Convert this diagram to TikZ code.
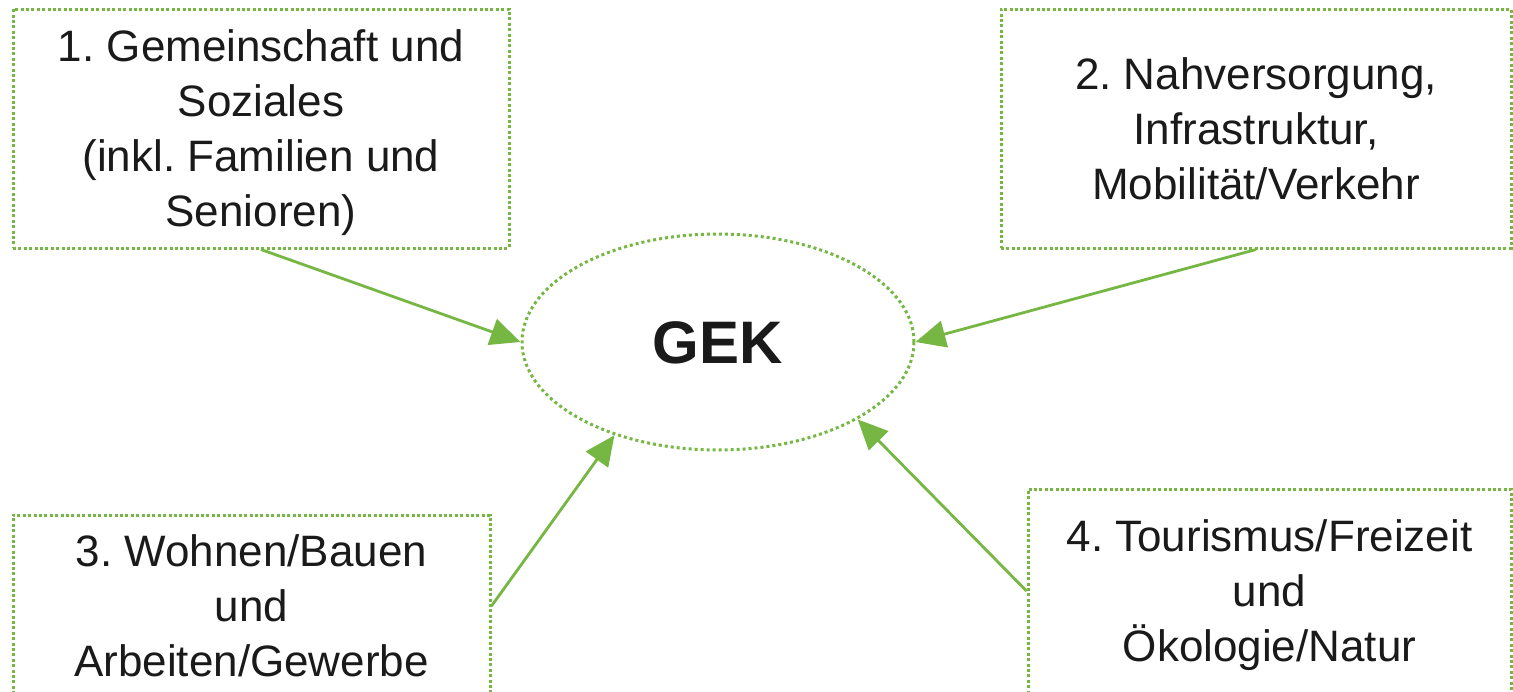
\documentclass[tikz,border=0pt]{standalone}
\usepackage{fontspec}
\setmainfont{Liberation Sans}
\usetikzlibrary{arrows.meta,shapes.geometric}
\definecolor{leaf}{RGB}{118,183,67}
\definecolor{ink}{RGB}{26,26,26}
\frenchspacing
\tikzset{
  topicbox/.style={draw=leaf, line width=3pt, dash pattern=on 3pt off 2.4pt,
    rectangle, inner sep=0pt, align=center, text=ink,
    font=\fontsize{44}{55}\selectfont\frenchspacing, text depth=0pt},
  threelines/.style={text height=141.5pt},
  fourlines/.style={text height=196.5pt},
  core/.style={draw=leaf, line width=3pt, dash pattern=on 3pt off 3pt,
    ellipse, inner sep=0pt, minimum width=392pt, minimum height=216pt,
    text=ink, font=\bfseries\fontsize{60}{72}\selectfont, text height=43pt, text depth=0pt},
  feed/.style={draw=leaf, line width=2.8pt, -{Triangle[length=30pt,width=27pt]}}
}
\begin{document}
\begin{tikzpicture}[x=1pt,y=-1pt]
  \useasboundingbox (0,0) rectangle (1513,691);
  % central ellipse
  \node[core] (gek) at (718,342) {GEK};
  % four topic fields
  \node[topicbox, fourlines, minimum width=496pt, minimum height=239pt] (t1) at (261,128.5)
    {1. Gemeinschaft und\\Soziales\\(inkl. Familien und\\Senioren)};
  \node[topicbox, threelines, minimum width=510pt, minimum height=239pt] (t2) at (1256,128.5)
    {2. Nahversorgung,\\Infrastruktur,\\Mobilität/Verkehr};
  \node[topicbox, threelines, minimum width=477pt, minimum height=182pt] (t3) at (251.5,606)
    {3. Wohnen/Bauen\\und\\Arbeiten/Gewerbe};
  \node[topicbox, threelines, minimum width=483pt, minimum height=204pt] (t4) at (1269.5,591)
    {4. Tourismus/Freizeit\\und\\Ökologie/Natur};
  % arrows into the ellipse
  \draw[feed] (t1.south) -- (gek.180);
  \draw[feed] (t2.south) -- (gek.0);
  \draw[feed] (t3.east) -- (gek.222);
  \draw[feed] (t4.west) -- (gek.331);
\end{tikzpicture}
\end{document}
